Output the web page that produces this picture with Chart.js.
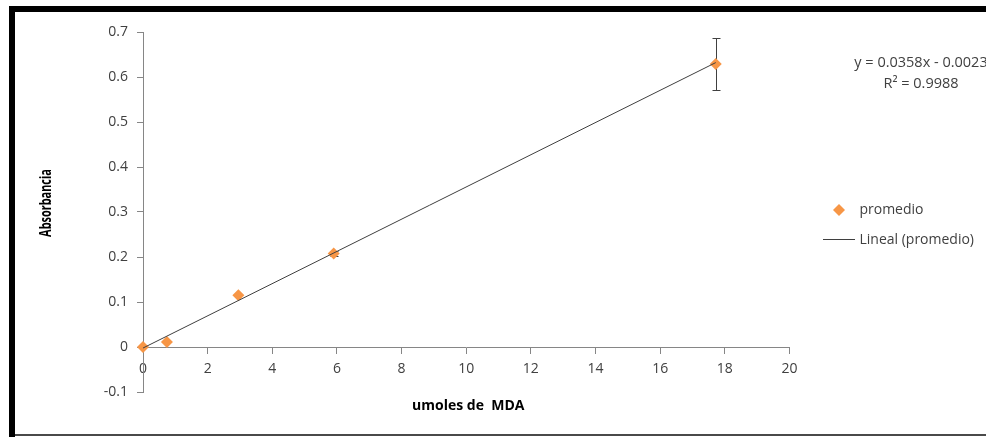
<!DOCTYPE html>
<html>
<head>
<meta charset="utf-8">
<script src="https://cdn.jsdelivr.net/npm/chart.js@4.4.0/dist/chart.umd.min.js"></script>
<style>
  html, body { margin: 0; padding: 0; background: #fff; }
  #wrap { width: 986px; height: 437px; position: relative; }
</style>
</head>
<body>
<div id="wrap"><canvas id="chart"></canvas></div>
<script>
// values
const umolesMDA = [0, 0.74, 2.95, 5.9, 17.72];
const promedio = [0, 0.011, 0.115, 0.208, 0.629];
const errorBars = [0, 0, 0, 0.006, 0.058];
const trendX = [0, 17.72];
const trendY = [-0.0023, 0.632];
const xTickValues = [0, 2, 4, 6, 8, 10, 12, 14, 16, 18, 20];
const yTickValues = [-0.1, 0, 0.1, 0.2, 0.3, 0.4, 0.5, 0.6, 0.7];
const equationLines = ["y = 0.0358x - 0.0023", "R\u00b2 = 0.9988"];
const xTitle = "umoles de  MDA";
const yTitle = "Absorbancia";

const FONT = "'Open Sans', sans-serif";
const TEXT = "#404040";
const AXIS = "#868686";
const ORANGE = "#F79646";
const TREND = "#3f3f3f";

// legend swatches
const diamondImg = document.createElement("canvas");
diamondImg.width = 12; diamondImg.height = 12;
(() => {
  const c = diamondImg.getContext("2d");
  c.fillStyle = ORANGE;
  c.beginPath(); c.moveTo(0, 6); c.lineTo(6, 0); c.lineTo(12, 6); c.lineTo(6, 12); c.closePath(); c.fill();
})();
const lineImg = document.createElement("canvas");
lineImg.width = 32; lineImg.height = 2;
(() => {
  const c = lineImg.getContext("2d");
  c.fillStyle = TREND;
  c.fillRect(0, 0, 32, 1);
})();

const tickSetter = (values) => (s) => { s.ticks = values.map(v => ({ value: v })); };

const extras = {
  id: "extras",
  beforeDatasetsDraw(chart) {
    const { ctx, scales: { x, y } } = chart;
    ctx.save();
    ctx.strokeStyle = TEXT;
    ctx.lineWidth = 1;
    umolesMDA.forEach((v, i) => {
      const e = errorBars[i];
      if (!e) return;
      const px = Math.round(x.getPixelForValue(v)) + 0.5;
      const top = Math.round(y.getPixelForValue(promedio[i] + e)) + 0.5;
      const bot = Math.round(y.getPixelForValue(promedio[i] - e)) + 0.5;
      ctx.beginPath();
      ctx.moveTo(px, top); ctx.lineTo(px, bot);
      ctx.moveTo(px - 4, top); ctx.lineTo(px + 4, top);
      ctx.moveTo(px - 4, bot); ctx.lineTo(px + 4, bot);
      ctx.stroke();
    });
    ctx.restore();
  },
  afterDraw(chart) {
    const { ctx, chartArea } = chart;
    ctx.save();
    // frame
    ctx.fillStyle = "#000";
    ctx.fillRect(9, 6, 986 - 9, 6);
    ctx.fillRect(9, 6, 6, 437 - 6);
    ctx.fillStyle = "#4a4a4a";
    ctx.fillRect(15, 434, 986 - 15, 2);

    // axis titles
    ctx.fillStyle = "#000";
    ctx.font = "bold 14px " + FONT;
    ctx.textAlign = "center";
    ctx.textBaseline = "middle";
    ctx.fillText(xTitle, (chartArea.left + chartArea.right) / 2 + 2, 406);
    ctx.save();
    ctx.translate(47, 203);
    ctx.rotate(-Math.PI / 2);
    ctx.scale(0.78, 1.1);
    ctx.fillText(yTitle, 0, 0);
    ctx.restore();

    // trendline equation
    ctx.fillStyle = TEXT;
    ctx.font = "14.5px " + FONT;
    ctx.fillText(equationLines[0], 921, 63);
    ctx.fillText(equationLines[1], 921, 84);
    ctx.restore();
  }
};

function draw() {
  new Chart(document.getElementById("chart"), {
    type: "scatter",
    data: {
      datasets: [
        {
          label: "promedio",
          data: umolesMDA.map((v, i) => ({ x: v, y: promedio[i] })),
          pointStyle: "rectRot",
          pointRadius: 6,
          pointBackgroundColor: ORANGE,
          pointBorderWidth: 0,
          backgroundColor: ORANGE,
          borderColor: ORANGE,
          clip: false,
          order: 1
        },
        {
          label: "Lineal (promedio)",
          data: trendX.map((v, i) => ({ x: v, y: trendY[i] })),
          showLine: true,
          pointRadius: 0,
          borderColor: TREND,
          borderWidth: 1,
          clip: false,
          order: 0
        }
      ]
    },
    options: {
      responsive: true,
      maintainAspectRatio: false,
      animation: false,
      events: [],
      devicePixelRatio: 1,
      layout: { padding: { left: 20, top: 32, right: 2, bottom: 19 } },
      scales: {
        x: {
          type: "linear",
          position: { y: 0 },
          min: 0,
          max: 20,
          afterBuildTicks: tickSetter(xTickValues),
          grid: { drawOnChartArea: false, tickLength: 6, color: AXIS, tickColor: AXIS },
          border: { color: AXIS, width: 1 },
          ticks: { color: TEXT, font: { family: FONT, size: 14 }, padding: 8, maxRotation: 0, autoSkip: false, callback: (v) => String(v) }
        },
        y: {
          type: "linear",
          position: "left",
          min: -0.1,
          max: 0.7,
          afterBuildTicks: tickSetter(yTickValues),
          afterFit: (s) => { s.width = 123; },
          grid: { drawOnChartArea: false, tickLength: 6, color: AXIS, tickColor: AXIS },
          border: { color: AXIS, width: 1 },
          ticks: { color: TEXT, font: { family: FONT, size: 14 }, padding: 9, callback: (v) => String(v) }
        },
        // empty boxes that keep room below and right of the plot
        gapBottom: {
          type: "linear",
          axis: "x",
          position: "bottom",
          display: true,
          grid: { display: false },
          border: { display: false },
          ticks: { display: false },
          afterFit: (s) => { s.height = 26; }
        },
        gapRight: {
          type: "linear",
          axis: "y",
          position: "right",
          display: true,
          grid: { display: false },
          border: { display: false },
          ticks: { display: false },
          afterFit: (s) => { s.width = 20; }
        }
      },
      plugins: {
        tooltip: { enabled: false },
        legend: {
          position: "right",
          maxWidth: 220,
          labels: {
            usePointStyle: true,
            pointStyleWidth: 27,
            padding: 16,
            color: TEXT,
            font: { family: FONT, size: 14 },
            sort: (a, b) => a.datasetIndex - b.datasetIndex,
            generateLabels(chart) {
              const items = Chart.defaults.plugins.legend.labels.generateLabels(chart);
              items.forEach(it => { it.pointStyle = it.datasetIndex === 0 ? diamondImg : lineImg; });
              return items;
            }
          }
        }
      }
    },
    plugins: [extras]
  });
}

Promise.all([
  document.fonts.load("14px 'Open Sans'"),
  document.fonts.load("bold 14px 'Open Sans'")
]).then(draw, draw);
</script>
</body>
</html>
